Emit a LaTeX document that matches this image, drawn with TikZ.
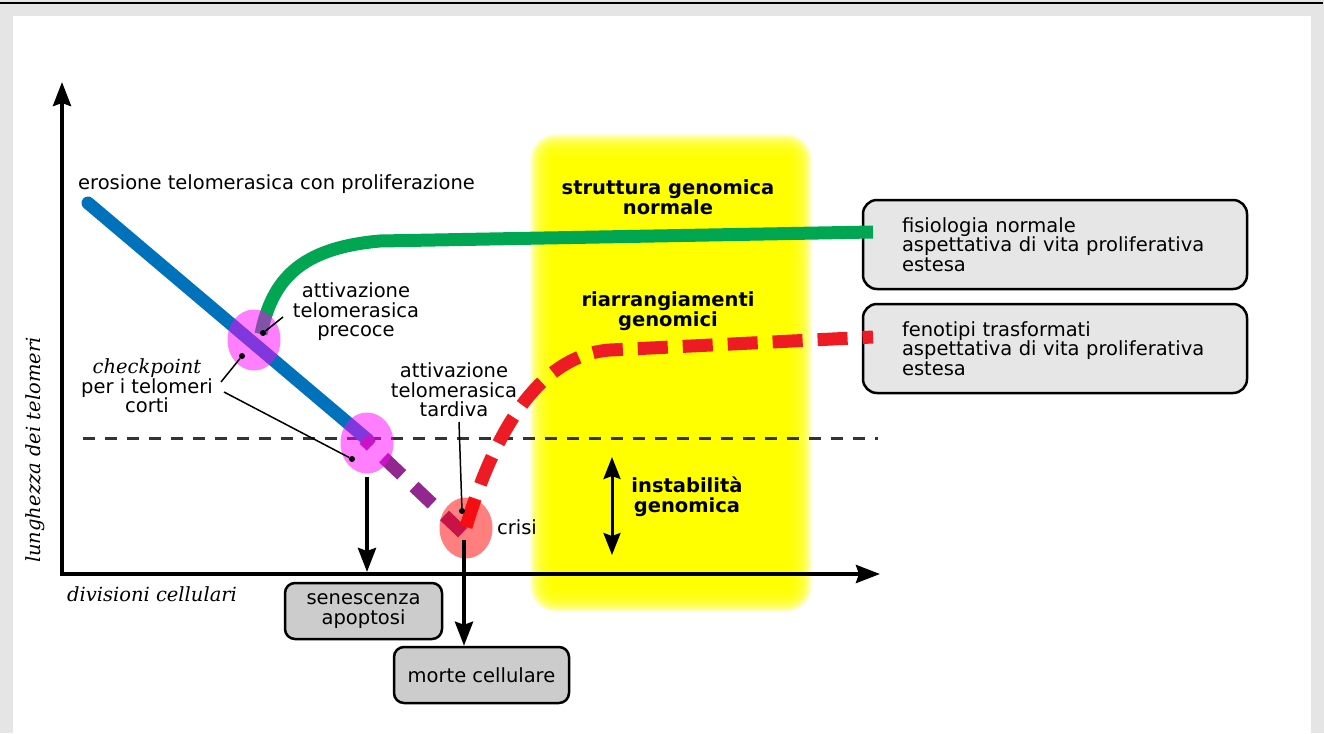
\documentclass[tikz,border=0pt]{standalone}
\usepackage{fontspec}
\setmainfont{DejaVu Sans}
\newfontfamily\serifit{DejaVu Serif}
\usetikzlibrary{arrows.meta,shapes.geometric}
\definecolor{framegray}{RGB}{229,229,229}
\definecolor{telblue}{RGB}{0,114,188}
\definecolor{telgreen}{RGB}{0,166,81}
\definecolor{telred}{RGB}{237,28,36}
\definecolor{telpurple}{RGB}{146,39,143}
\definecolor{boxgray}{RGB}{204,204,204}
\definecolor{boxlight}{RGB}{230,230,230}
\definecolor{glowyellow}{RGB}{255,255,0}
\definecolor{halopink}{RGB}{255,0,255}
\definecolor{halored}{RGB}{255,0,0}
\tikzset{
  curve/.style={line width=13pt},
  halo/.style={ellipse, minimum width=53pt, minimum height=61pt, fill opacity=0.5},
  pin/.style={circle, fill=black, minimum size=6pt},
  callout/.style={line width=1.5pt},
  fate/.style={draw, line width=2.5pt, rounded corners=10pt, fill=boxgray, minimum height=56pt},
  outcome/.style={draw, line width=2.5pt, rounded corners=14pt, fill=boxlight, minimum height=89pt,
    text width=306pt, inner xsep=39pt, align=left},
  region/.style={font=\fontsize{19.5}{19.5}\selectfont\bfseries},
  axislab/.style={font=\fontsize{19.5}{19.5}\selectfont\serifit\itshape},
  bigtip/.style={-{Stealth[length=24pt,width=18pt,inset=3pt]}, line width=4pt}
}
\begin{document}
\begin{tikzpicture}[x=1pt, y=-1pt, every node/.style={font=\fontsize{19.5}{19.5}\selectfont, align=center, inner sep=0pt}]
\useasboundingbox (0,0) rectangle (1324,733);
\fill[framegray] (0,0) rectangle (1324,733);
\fill[black] (0,2) rectangle (1323,4.5);
\fill[white] (13,16) rectangle (1311,733);

\foreach \k [evaluate=\k as \rad using 26-\k] in {0,...,21}
  \fill[glowyellow, opacity=0.13, rounded corners=\rad pt] ({530+\k},{134+\k}) rectangle ({812-\k},{612-\k});
\fill[glowyellow, rounded corners=3pt] (552,156) rectangle (790,590);

\draw[line width=3pt, black!80, dash pattern=on 12pt off 10pt] (83,438) -- (878,438);

\coordinate (origin) at (62,574);
\coordinate (ytop) at (62,82);
\coordinate (xend) at (880,574);
\draw[bigtip] (62,576) -- (ytop);
\draw[bigtip] (60,574) -- (xend);
\node[axislab, rotate=90] (ylab) at (35,450) {lunghezza dei telomeri};
\node[axislab] (xlab) at (152,594) {divisioni cellulari};

\node[outcome] (physio) at (1055,244.5) {fisiologia normale\\aspettativa di vita proliferativa\\estesa};
\node[outcome] (transf) at (1055,348.5) {fenotipi trasformati\\aspettativa di vita proliferativa\\estesa};

\coordinate (erostart) at (88,203);
\coordinate (eroend) at (368,440);
\coordinate (dashstart) at (364,439);
\coordinate (dashend) at (464,534);
\draw[curve, telblue, line cap=round] (erostart) -- (eroend);
\draw[curve, telpurple, dash pattern=on 25pt off 17pt, dash phase=15pt] (dashstart) -- (dashend);

\coordinate (greenstart) at (261,334);
\coordinate (greenend) at (873,232);
\draw[curve, telgreen] (greenstart) .. controls (272,280) and (300,248) .. (380,241) -- (greenend);
\coordinate (redstart) at (466,527);
\coordinate (redend) at (873,337);
\draw[curve, telred, dash pattern=on 30pt off 15pt] (redstart) .. controls (495,430) and (540,355) .. (610,350) -- (redend);

\node[halo, fill=halopink] (early) at (254,340) {};
\node[halo, fill=halopink] (check) at (367,443) {};
\node[halo, fill=halored] (crisis) at (466,528) {};

\node[pin] (pinearly) at (263,333) {};
\node[pin] (pincheckA) at (242,356) {};
\node[pin] (pincheckB) at (352,459) {};
\node[pin] (pinlate) at (462,511) {};

\node[anchor=west] (erosion) at (78,184) {erosione telomerasica con proliferazione};
\node (precoce) at (356,312) {attivazione\\telomerasica\\precoce};
\node (tardiva) at (454,390) {attivazione\\telomerasica\\tardiva};
\node (crisi) at (517,527) {crisi};
\node (checkpoint) at (147,386) {{\serifit\itshape checkpoint}\\per i telomeri\\corti};
\coordinate (checkA) at (221,382);
\coordinate (checkB) at (224,392);
\coordinate (precoceA) at (283,317);
\coordinate (tardivaA) at (459,422);
\draw[callout] (pinearly) -- (precoceA);
\draw[callout] (pincheckA) -- (checkA);
\draw[callout] (pincheckB) -- (checkB);
\draw[callout] (pinlate) -- (tardivaA);

\node[region] (normal) at (668,197) {struttura genomica\\normale};
\node[region] (rearr) at (668,311) {riarrangiamenti\\genomici};
\node[region] (instab) at (687,497) {instabilità\\genomica};
\coordinate (instabtop) at (612,457);
\coordinate (instabbot) at (612,555);
\draw[{Stealth[length=22pt,width=17pt,inset=3pt]}-{Stealth[length=22pt,width=17pt,inset=3pt]}, line width=3pt] (instabtop) -- (instabbot);

\node[fate, minimum width=157pt] (senescence) at (363.5,611) {senescenza\\apoptosi};
\node[fate, minimum width=175pt] (death) at (481.5,675) {morte cellulare};
\coordinate (checkfoot) at (367,477);
\coordinate (crisisfoot) at (464,540);
\draw[bigtip] (checkfoot) -- (367,572);
\draw[bigtip] (crisisfoot) -- (death.north -| crisisfoot);
\end{tikzpicture}
\end{document}
